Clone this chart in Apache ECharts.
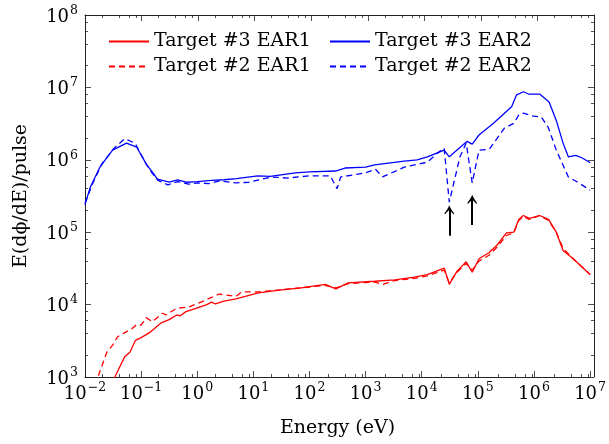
<!DOCTYPE html>
<html><head><meta charset="utf-8">
<script src="https://cdn.jsdelivr.net/npm/echarts@6/dist/echarts.min.js"></script>
<style>html,body{margin:0;padding:0;background:#fff}#c{width:609px;height:444px}</style>
</head><body><div id="c"></div>
<script>
// ---- data ----
const seriesNames = ['Target #3 EAR1', 'Target #2 EAR1', 'Target #3 EAR2', 'Target #2 EAR2'];

const t3ear2E = [0.01,0.0123,0.0184,0.031,0.055,0.083,0.126,0.158,0.195,0.316,0.45,0.63,1.0,1.8,3.0,5.0,12,20,56,100,290,430,1000,1450,4900,8300,12600,25100,31000,64500,79400,105000,190000,400000,490000,650000,800000,1.26e6,1.86e6,2.5e6,3.3e6,4.1e6,5.6e6,7.4e6,1e7];
const t3ear2V = [2.4e5,4.1e5,7.9e5,1.36e6,1.7e6,1.5e6,8.5e5,6.8e5,5.4e5,4.9e5,5.3e5,4.9e5,5.0e5,5.2e5,5.3e5,5.5e5,6.0e5,5.9e5,6.6e5,6.8e5,7.0e5,7.7e5,7.9e5,8.5e5,9.6e5,1.0e6,1.1e6,1.36e6,1.1e6,1.8e6,1.65e6,2.2e6,3.2e6,5.4e6,7.9e6,8.7e6,8.1e6,8.1e6,6.3e6,3.5e6,1.7e6,1.1e6,1.15e6,1.05e6,9.1e5];

const t2ear2E = [0.01,0.0135,0.02,0.033,0.051,0.078,0.12,0.158,0.2,0.3,0.45,0.7,1.0,1.6,2.5,5,8.3,21,40,100,235,310,360,1000,1500,2000,4900,12600,19000,25100,31000,48000,62000,79400,105000,160000,300000,440000,540000,650000,980000,1.35e6,1.8e6,2.5e6,4.1e6,6.3e6,1e7];
const t2ear2V = [2.5e5,4.6e5,8.8e5,1.45e6,1.95e6,1.7e6,9e5,6.5e5,5.2e5,4.5e5,5.0e5,4.6e5,4.8e5,4.7e5,5.1e5,4.8e5,4.9e5,5.8e5,5.6e5,6.0e5,6.0e5,4.0e5,5.8e5,6.6e5,7.4e5,5.8e5,7.9e5,9.3e5,1.23e6,1.45e6,2.6e5,1.1e6,1.7e6,4.8e5,1.36e6,1.4e6,2.75e6,3.2e6,4.2e6,4.4e6,4.0e6,3.9e6,2.8e6,1.36e6,5.8e5,4.8e5,3.8e5];

const t3ear1E = [0.03,0.034,0.051,0.063,0.079,0.1,0.141,0.229,0.316,0.43,0.5,0.63,0.95,1.48,1.8,2.1,3.0,4.9,12.3,31.6,71,190,295,490,1450,3300,7400,12600,25100,31000,42600,62000,79400,105000,158000,219000,324000,437000,537000,646000,830000,1.26e6,1.82e6,2.5e6,3.3e6,5e6,1e7];
const t3ear1V = [820,1000,1900,2200,3200,3500,4100,5600,6200,7200,7000,8000,8900,1.0e4,1.08e4,1.02e4,1.12e4,1.2e4,1.45e4,1.6e4,1.7e4,1.9e4,1.65e4,2.0e4,2.1e4,2.2e4,2.4e4,2.6e4,3.2e4,1.9e4,2.9e4,3.9e4,2.8e4,4.3e4,5.2e4,6.6e4,9.8e4,1.0e5,1.5e5,1.7e5,1.55e5,1.7e5,1.5e5,1.0e5,5.6e4,4.3e4,2.6e4];

const t2ear1E = [0.015,0.017,0.0245,0.0316,0.038,0.051,0.068,0.083,0.1,0.123,0.158,0.24,0.28,0.43,0.72,1.23,2.45,4.9,6.2,12.3,31.6,100,190,295,490,1450,2000,3300,7400,12600,25100,31000,42600,62000,79400,105000,158000,219000,324000,437000,537000,646000,830000,1.26e6,1.82e6,2.5e6,3.3e6,5e6,1e7];
const t2ear1V = [770,1000,2200,2800,3600,4100,4600,5300,5200,6600,5800,7600,7200,8900,9300,1.1e4,1.4e4,1.3e4,1.5e4,1.5e4,1.6e4,1.75e4,1.85e4,1.7e4,1.95e4,2.05e4,1.9e4,2.15e4,2.3e4,2.5e4,3.0e4,2.0e4,2.8e4,3.7e4,3.0e4,4.0e4,4.8e4,6.2e4,9.0e4,9.8e4,1.45e5,1.65e5,1.5e5,1.7e5,1.45e5,1.0e5,6e4,4.3e4,2.6e4];

// arrows marking the dips
const arrowE = [31000, 79400];
const arrowFrom = [8.9e4, 1.26e5];
const arrowTo = [2.05e5, 2.85e5];

const xMajor = [1e-2,1e-1,1,1e1,1e2,1e3,1e4,1e5,1e6,1e7];
const yMajor = [1e3,1e4,1e5,1e6,1e7,1e8];
const minorMult = [2,4,6,8];

// ---- build ----
function zip(a, b) { return a.map((v, i) => [v, b[i]]); }
function minors(majors) {
  const out = [];
  for (let i = 0; i < majors.length - 1; i++) minorMult.forEach(m => out.push(majors[i] * m));
  return out;
}
const FONT = 'DejaVu Serif';
const AX = '#222';
function fmt(v) {
  const e = Math.round(Math.log10(v));
  return '{b|10}{s|' + (e < 0 ? '\u2212' + (-e) : e) + '}';
}
const rich = {
  b: { fontFamily: FONT, fontSize: 18, color: '#000', verticalAlign: 'bottom', lineHeight: 22 },
  s: { fontFamily: FONT, fontSize: 12.5, color: '#000', verticalAlign: 'bottom', padding: [0, 0, 9, 1], lineHeight: 22 }
};
const gridPos = { left: 85, right: 15, top: 15, bottom: 67, containLabel: false };
function axisBase(type, pos, gridIndex, min, max, ticks, len, labels, line) {
  return {
    type: 'log', logBase: 10, min: min, max: max, position: pos, gridIndex: gridIndex,
    axisLine: { show: line, lineStyle: { color: AX, width: 1 } },
    axisTick: { show: true, inside: true, length: len, customValues: ticks, lineStyle: { color: AX, width: 0.8 } },
    axisLabel: labels ? { show: true, customValues: ticks, formatter: fmt, rich: rich, margin: type === 'x' ? 4 : 7 } : { show: false },
    splitLine: { show: false }, minorTick: { show: false }
  };
}
const xMin = xMajor[0], xMax = xMajor[xMajor.length - 1];
const yMin = yMajor[0], yMax = yMajor[yMajor.length - 1];
const xAxes = [
  Object.assign(axisBase('x', 'bottom', 0, xMin, xMax, xMajor, 6, true, true), {
    name: 'Energy (eV)', nameLocation: 'middle', nameGap: 42,
    nameTextStyle: { fontFamily: FONT, fontSize: 19, color: '#000' }
  }),
  axisBase('x', 'bottom', 1, xMin, xMax, minors(xMajor), 3, false, false),
  axisBase('x', 'top', 2, xMin, xMax, xMajor, 6, false, true),
  axisBase('x', 'top', 3, xMin, xMax, minors(xMajor), 3, false, false)
];
const yAxes = [
  Object.assign(axisBase('y', 'left', 0, yMin, yMax, yMajor, 6, true, true), {
    name: 'E(d\u03D5/dE)/pulse', nameLocation: 'middle', nameGap: 54,
    nameTextStyle: { fontFamily: FONT, fontSize: 19, color: '#000' }
  }),
  axisBase('y', 'left', 1, yMin, yMax, minors(yMajor), 3, false, false),
  axisBase('y', 'right', 2, yMin, yMax, yMajor, 6, false, true),
  axisBase('y', 'right', 3, yMin, yMax, minors(yMajor), 3, false, false)
];
const chevron = 'path://M5,0 C6,3 8,6 10,9 L9,9.6 C7.6,7.6 6.2,6.2 5,5.2 C3.8,6.2 2.4,7.6 1,9.6 L0,9 C2,6 4,3 5,0 Z';
function line(name, e, v, color, dashed, extra) {
  return Object.assign({
    name: name, type: 'line', data: zip(e, v), xAxisIndex: 0, yAxisIndex: 0,
    symbol: 'none', showSymbol: false, smooth: false, clip: true, animation: false,
    lineStyle: { color: color, width: 1.3, type: dashed ? [6, 4] : 'solid' },
    itemStyle: { color: color }
  }, extra || {});
}
const arrowData = arrowE.map((e, i) => [
  { coord: [e, arrowFrom[i]], symbol: 'none' },
  { coord: [e, arrowTo[i]], symbol: chevron, symbolSize: [10, 9] }
]);
const series = [
  line(seriesNames[0], t3ear1E, t3ear1V, '#ff0000', false),
  line(seriesNames[1], t2ear1E, t2ear1V, '#ff0000', true),
  line(seriesNames[2], t3ear2E, t3ear2V, '#0000ff', false),
  line(seriesNames[3], t2ear2E, t2ear2V, '#0000ff', true, {
    markLine: {
      silent: true, animation: false, symbol: ['none', 'none'],
      label: { show: false },
      lineStyle: { color: '#000', width: 2, type: 'solid' },
      emphasis: { disabled: true },
      data: arrowData
    }
  })
];
function legend(name, left, top) {
  return {
    data: [name], left: left, top: top, padding: 0, itemWidth: 40, itemHeight: 14, itemGap: 0,
    selectedMode: false,
    itemStyle: { opacity: 0, color: 'transparent', borderWidth: 0 },
    textStyle: { fontFamily: FONT, fontSize: 19, color: '#000' }
  };
}
const chart = echarts.init(document.getElementById('c'), null, { renderer: 'canvas' });
chart.setOption({
  backgroundColor: '#fff',
  animation: false,
  grid: [0, 1, 2, 3].map(() => Object.assign({}, gridPos)),
  xAxis: xAxes,
  yAxis: yAxes,
  legend: [
    legend(seriesNames[0], 108, 32),
    legend(seriesNames[2], 329, 32),
    legend(seriesNames[1], 108, 57),
    legend(seriesNames[3], 329, 57)
  ],
  series: series
});
</script>
</body></html>
